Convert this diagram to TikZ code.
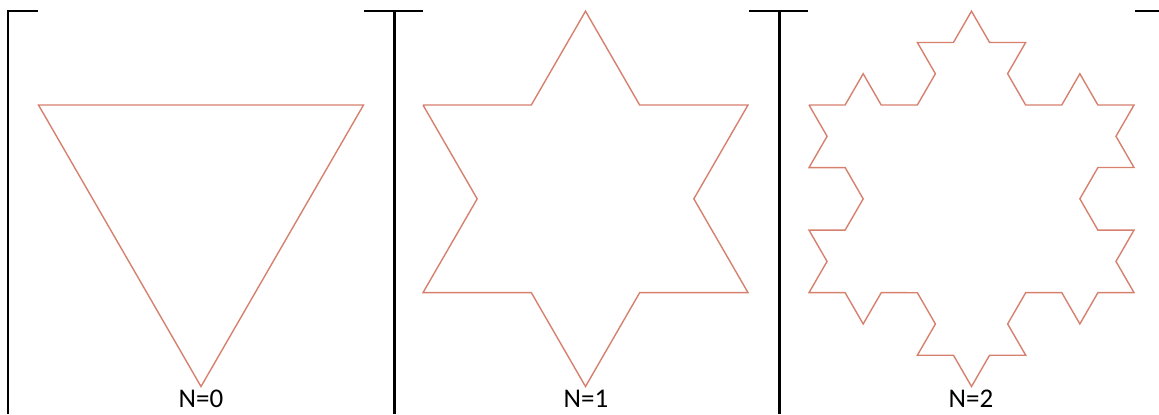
\documentclass[tikz,border=0pt]{standalone}
\usepackage{fontspec}
\setmainfont{Carlito}
\usetikzlibrary{decorations.fractals}
\tikzset{
  koch/.style={draw={rgb,255:red,214;green,128;blue,110}, line width=0.7pt, line join=miter},
  border/.style={draw=black, line width=1.1pt},
  lbl/.style={anchor=base, inner sep=0pt, font=\fontsize{13.5}{16}\selectfont}
}
\begin{document}
\begin{tikzpicture}[x=0.5pt,y=-0.5pt]
\useasboundingbox (0,0) rectangle (1159,414);
% table borders (top border hidden behind the pictures)
\draw[border] (7,11) -- (38,11);
\draw[border] (364,11) -- (423,11);
\draw[border] (749,11) -- (808,11);
\draw[border] (1135,11) -- (1159,11);
\draw[border] (8,10.5) -- (8,414);
\draw[border] (394.5,10.5) -- (394.5,414);
\draw[border] (779.5,10.5) -- (779.5,414);
% N=0
\draw[koch] (38.5,105) -- (363.5,105) -- (201,386.5) -- cycle;
% N=1
\draw[koch] decorate[decoration=Koch snowflake]{(423,105) -- (748,105) -- (585.5,386.5) -- cycle};
% N=2
\draw[koch] decorate[decoration=Koch snowflake]{decorate[decoration=Koch snowflake]{(809,105) -- (1134,105) -- (971.5,386.5) -- cycle}};
% labels
\node[lbl] (l0) at (201,407.5) {N=0};
\node[lbl] (l1) at (586,407.5) {N=1};
\node[lbl] (l2) at (971,407.5) {N=2};
\end{tikzpicture}
\end{document}
